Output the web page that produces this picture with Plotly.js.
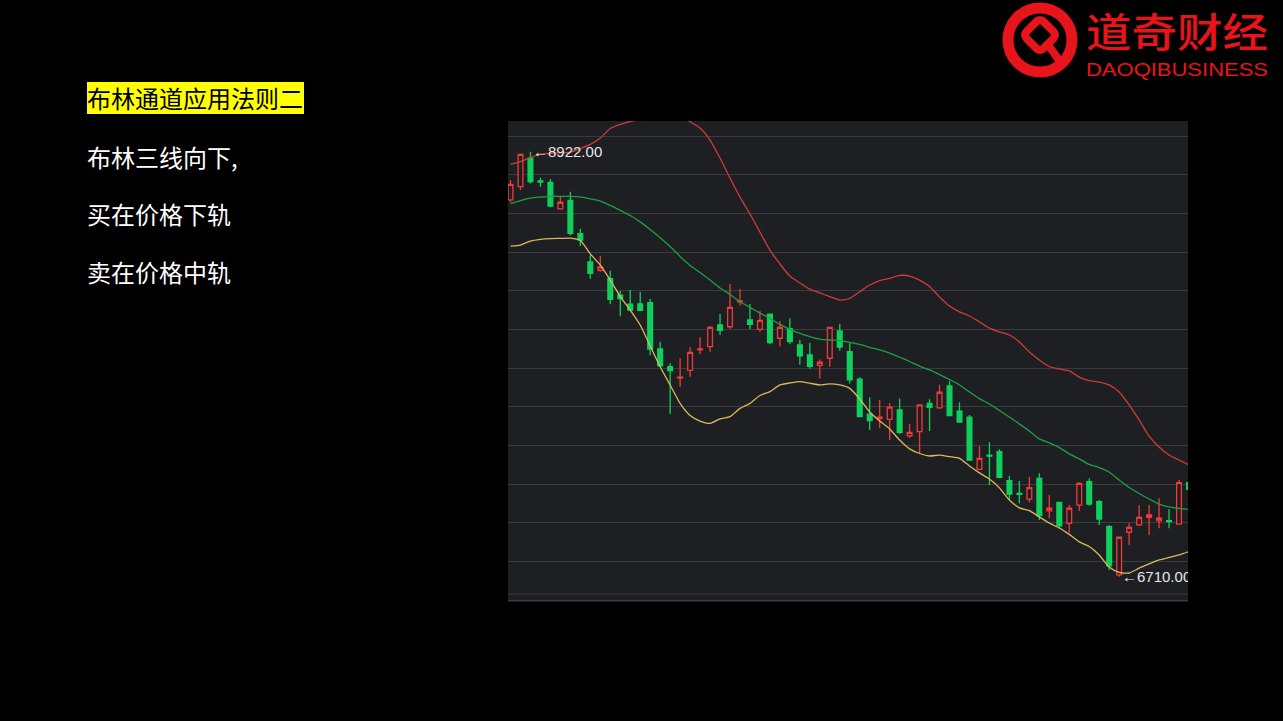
<!DOCTYPE html>
<html>
<head>
<meta charset="utf-8">
<script src="https://cdn.plot.ly/plotly-3.0.1.min.js"></script>
<style>
  html, body { margin:0; padding:0; background:#000; width:1283px; height:721px; overflow:hidden; }
  #chart { position:absolute; left:0; top:0; width:1283px; height:721px; }
  .txt { position:absolute; font-family:"Noto Sans CJK SC","Noto Sans",sans-serif; font-size:24px; color:#fff; white-space:nowrap; line-height:32px; }
  #title { left:87px; top:82px; height:32px; background:#ffff00; color:#000; padding:0 1px 0 0; }
  #mask { position:absolute; left:1188px; top:121px; width:95px; height:481px; background:#000; }
  #logo { position:absolute; left:995px; top:0px; }
</style>
</head>
<body>
<div id="chart"></div>
<div id="mask"></div>
<div class="txt" id="title">布林通道应用法则二</div>
<div class="txt" style="left:87px; top:141px;">布林三线向下,</div>
<div class="txt" style="left:87px; top:198px;">买在价格下轨</div>
<div class="txt" style="left:87px; top:256px;">卖在价格中轨</div>
<svg id="logo" width="288" height="90" viewBox="0 0 288 90">
  <circle cx="45" cy="40" r="32" fill="none" stroke="#e8141c" stroke-width="11"/>
  <rect x="33" y="23" width="24" height="24" rx="5" ry="5" transform="rotate(45 45 35)" fill="none" stroke="#e8141c" stroke-width="8"/>
  <line x1="54" y1="46" x2="66" y2="63" stroke="#e8141c" stroke-width="8" stroke-linecap="round"/>
  <text x="91" y="47" textLength="182" lengthAdjust="spacingAndGlyphs" font-family="Noto Sans CJK SC" font-size="40" font-weight="500" fill="#e8141c">道奇财经</text>
  <text x="91" y="76" textLength="182" lengthAdjust="spacingAndGlyphs" font-family="Liberation Sans, Arial, sans-serif" font-size="19" fill="#e8141c">DAOQIBUSINESS</text>
</svg>
<script>
// K-line data (price values)
const open  = [8671,8740,8889,8770,8763,8625,8669,8495,8348,8304,8261,8176,8129,8130,8136,7895,7803,7744,7784,7890,7907,8020,8011,8140,8046,7997,8077,7951,8001,7916,7864,7810,7847,7989,7881,7738,7556,7533,7529,7578,7443,7465,7612,7589,7703,7572,7540,7268,7342,7361,7210,7143,7114,7222,7052,7097,6988,7082,7204,7100,6970,6719,6941,6979,7019,7000,7002,6983,7199];
const high  = [8775,8913,8922,8787,8780,8688,8714,8521,8384,8381,8303,8197,8202,8193,8155,7932,7821,7847,7904,7956,8015,8077,8233,8207,8129,8094,8078,8041,8055,7942,7926,7841,8010,8025,7925,7748,7644,7630,7614,7638,7505,7605,7633,7709,7727,7618,7552,7389,7409,7373,7234,7208,7230,7248,7135,7100,7083,7201,7222,7109,6979,6916,6988,7083,7083,7118,7061,7213,7224];
const low   = [8660,8723,8757,8740,8633,8623,8487,8431,8261,8297,8128,8065,8095,8095,7862,7806,7557,7699,7751,7868,7881,7968,8001,8121,7999,7985,7920,7908,7920,7813,7792,7741,7803,7886,7716,7541,7473,7485,7421,7453,7433,7348,7468,7584,7546,7512,7315,7266,7186,7222,7109,7092,7097,7005,7014,6962,6939,7052,7079,6979,6745,6710,6875,6974,6927,6962,6962,6981,7135];
const close = [8752,8908,8766,8764,8639,8659,8497,8462,8289,8322,8153,8158,8097,8096,7895,7808,7782,7749,7878,7895,8008,7992,8112,8145,8024,8044,7928,8008,7933,7860,7805,7826,8008,7905,7734,7543,7522,7540,7592,7461,7461,7604,7591,7670,7548,7515,7317,7326,7337,7227,7140,7138,7173,7028,7066,6974,7066,7196,7088,7010,6766,6915,6967,7019,7031,7014,6997,7199,7165];

// Bollinger bands
const upperBand  = [8858,8871,8892,8910,8914,8916,8920,8939,8960,8993,9043,9065,9079,9090,9108,9118,9118,9108,9079,9045,8983,8889,8785,8686,8598,8504,8410,8338,8275,8239,8207,8187,8168,8150,8159,8193,8228,8251,8263,8278,8275,8254,8220,8166,8119,8088,8067,8036,8004,7984,7968,7932,7879,7838,7804,7791,7781,7749,7731,7723,7708,7671,7604,7526,7442,7385,7343,7317,7291];
const middleBand = [8652,8668,8681,8686,8690,8690,8690,8687,8677,8665,8643,8617,8590,8557,8517,8474,8429,8377,8330,8293,8254,8213,8179,8141,8112,8082,8054,8023,7997,7976,7960,7947,7942,7939,7929,7919,7904,7891,7874,7852,7830,7806,7786,7762,7736,7708,7671,7637,7609,7575,7541,7505,7468,7427,7406,7382,7349,7323,7294,7278,7255,7213,7174,7143,7114,7088,7073,7065,7060];
const lowerBand  = [8431,8436,8457,8466,8470,8471,8472,8460,8390,8332,8254,8168,8098,8020,7911,7803,7708,7612,7549,7520,7508,7531,7543,7586,7612,7653,7673,7708,7718,7725,7717,7708,7713,7708,7690,7635,7567,7520,7479,7421,7375,7351,7338,7343,7335,7326,7286,7250,7218,7172,7109,7068,7054,7021,6989,6963,6930,6891,6867,6823,6760,6732,6729,6754,6776,6797,6810,6823,6841];

// Marked extremes
const maxLabel = {idx: 2, price: 8922, text: '←8922.00'};
const minLabel = {idx: 61, price: 6710, text: '←6710.00'};

const idx = open.map((_, i) => i);

const RED = '#f03a3a', GREEN = '#10d05c', BG = '#1e1f22';

const traces = [
  {type:'scatter', mode:'lines', x: idx, y: upperBand, line:{color:'#d23a3a', width:1.3, shape:'spline', smoothing:0.6}, hoverinfo:'skip'},
  {type:'scatter', mode:'lines', x: idx, y: middleBand, line:{color:'#1e9e48', width:1.3, shape:'spline', smoothing:0.6}, hoverinfo:'skip'},
  {type:'scatter', mode:'lines', x: idx, y: lowerBand, line:{color:'#d9b95c', width:1.3, shape:'spline', smoothing:0.6}, hoverinfo:'skip'},
  {type:'candlestick', x: idx, open: open, high: high, low: low, close: close,
   increasing:{line:{color:RED, width:1.3}, fillcolor:BG},
   decreasing:{line:{color:GREEN, width:1.3}, fillcolor:GREEN},
   whiskerwidth:0, hoverinfo:'skip'}
];

const layout = {
  width:1283, height:721,
  margin:{l:508, r:95, t:121, b:119, pad:0},
  paper_bgcolor:'rgba(0,0,0,0)',
  plot_bgcolor:BG,
  showlegend:false,
  boxgap:0.32,
  xaxis:{range:[-0.25, 67.9], showgrid:false, zeroline:false, showticklabels:false, ticks:'', rangeslider:{visible:false}, fixedrange:true},
  yaxis:{range:[6578, 9082], showgrid:true, gridcolor:'#3a3b3f', gridwidth:1, tick0:6789.3, dtick:201.3, zeroline:false, showticklabels:false, ticks:'', fixedrange:true},
  shapes:[{type:'line', xref:'paper', x0:0, x1:1, yref:'y', y0:6620, y1:6620, line:{color:'#3a3b3f', width:1}}],
  annotations:[
    {x: maxLabel.idx, y: maxLabel.price, text: maxLabel.text, showarrow:false, xanchor:'left', yanchor:'middle', xshift:1, yshift:0,
     font:{family:'Liberation Sans, Arial, sans-serif', size:15, color:'#e6e6e6'}},
    {x: minLabel.idx, y: minLabel.price, text: minLabel.text, showarrow:false, xanchor:'left', yanchor:'middle', xshift:1, yshift:0,
     font:{family:'Liberation Sans, Arial, sans-serif', size:15, color:'#e6e6e6'}}
  ]
};

Plotly.newPlot('chart', traces, layout, {staticPlot:true, displayModeBar:false});
</script>
</body>
</html>
